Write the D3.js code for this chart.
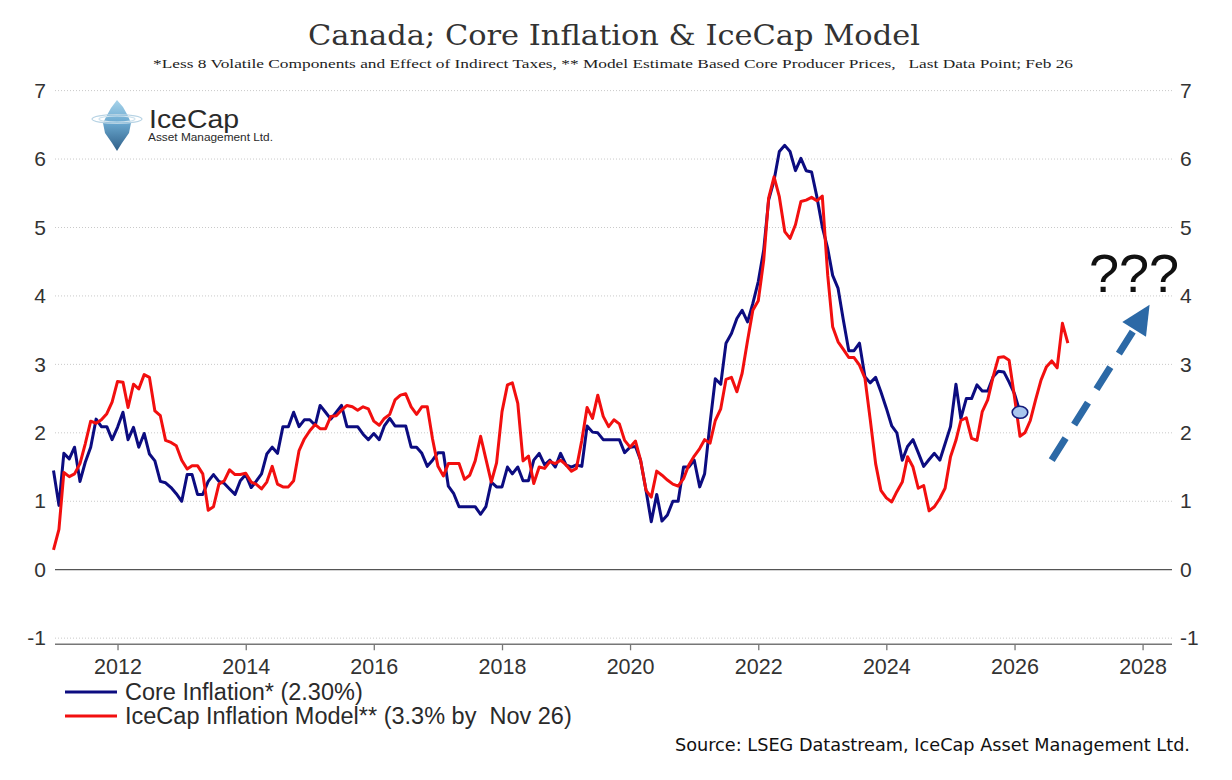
<!DOCTYPE html>
<html>
<head>
<meta charset="utf-8">
<script src="https://cdn.jsdelivr.net/npm/d3@7"></script>
<style>
  body { margin: 0; background: #fff; }
  svg { display: block; }
  text { white-space: pre; }
</style>
</head>
<body>
<div id="container"></div>
<script>
/* CONSTANTS AND GLOBALS */
const width = 1232,
  height = 780,
  plot = { left: 55, right: 1172, top: 90.6, bottom: 644.3 };

/* DATA */
// monthly, year on year %, first value is Jan 2011
const firstMonth = new Date(2011, 0, 1);

const coreInflation = [
  1.45, 0.94, 1.70, 1.62, 1.79, 1.29, 1.57, 1.79, 2.20, 2.09, 2.09, 1.90, // 2011
  2.08, 2.30, 1.90, 2.08, 1.79, 1.99, 1.69, 1.59, 1.29, 1.27, 1.20, 1.11, // 2012
  1.00, 1.39, 1.39, 1.10, 1.10, 1.29, 1.39, 1.29, 1.26, 1.18, 1.10, 1.30, // 2013
  1.39, 1.20, 1.29, 1.40, 1.69, 1.79, 1.70, 2.09, 2.09, 2.30, 2.09, 2.19, // 2014
  2.19, 2.11, 2.40, 2.30, 2.20, 2.30, 2.40, 2.09, 2.09, 2.09, 1.98, 1.90, // 2015
  1.99, 1.90, 2.10, 2.21, 2.10, 2.10, 2.10, 1.79, 1.79, 1.70, 1.51, 1.60, // 2016
  1.71, 1.71, 1.22, 1.11, 0.92, 0.92, 0.92, 0.92, 0.81, 0.92, 1.28, 1.21, // 2017
  1.21, 1.50, 1.40, 1.50, 1.30, 1.30, 1.60, 1.70, 1.53, 1.60, 1.50, 1.70, // 2018
  1.53, 1.50, 1.53, 1.51, 2.10, 2.01, 2.00, 1.90, 1.90, 1.90, 1.90, 1.71, // 2019
  1.79, 1.80, 1.60, 1.16, 0.70, 1.10, 0.71, 0.80, 1.00, 1.00, 1.50, 1.50, // 2020
  1.60, 1.21, 1.40, 2.14, 2.79, 2.71, 3.31, 3.45, 3.67, 3.79, 3.62, 3.89, // 2021
  4.21, 4.67, 5.40, 5.69, 6.11, 6.20, 6.11, 5.83, 6.01, 5.83, 5.81, 5.45, // 2022
  5.01, 4.69, 4.30, 4.11, 3.65, 3.20, 3.20, 3.31, 2.82, 2.73, 2.81, 2.60, // 2023
  2.36, 2.10, 2.00, 1.60, 1.80, 1.90, 1.71, 1.51, 1.61, 1.70, 1.60, 1.84, // 2024
  2.09, 2.71, 2.21, 2.50, 2.50, 2.70, 2.61, 2.61, 2.82, 2.90, 2.89, 2.74, // 2025
  2.57, 2.30                                                              // 2026
];

const iceCapModel = [
  0.29, 0.59, 1.42, 1.36, 1.40, 1.55, 1.84, 2.17, 2.14, 2.19, 2.28, 2.45, // 2011
  2.75, 2.74, 2.37, 2.71, 2.64, 2.85, 2.81, 2.32, 2.25, 1.89, 1.86, 1.81, // 2012
  1.60, 1.47, 1.52, 1.52, 1.40, 0.87, 0.92, 1.25, 1.30, 1.46, 1.39, 1.39, // 2013
  1.41, 1.28, 1.25, 1.18, 1.28, 1.51, 1.25, 1.21, 1.21, 1.30, 1.74, 1.91, // 2014
  2.03, 2.12, 2.06, 2.06, 2.24, 2.25, 2.33, 2.40, 2.38, 2.33, 2.38, 2.35, // 2015
  2.17, 2.11, 2.21, 2.27, 2.48, 2.55, 2.57, 2.38, 2.27, 2.38, 2.38, 1.91, // 2016
  1.51, 1.37, 1.55, 1.55, 1.55, 1.32, 1.38, 1.59, 1.95, 1.62, 1.28, 1.56, // 2017
  2.31, 2.70, 2.73, 2.43, 1.59, 1.66, 1.26, 1.50, 1.48, 1.58, 1.55, 1.60, // 2018
  1.53, 1.44, 1.48, 1.89, 2.37, 2.21, 2.55, 2.24, 2.09, 2.19, 2.13, 1.89, // 2019
  1.79, 1.88, 1.60, 1.16, 1.06, 1.44, 1.38, 1.31, 1.25, 1.22, 1.33, 1.53, // 2020
  1.66, 1.77, 1.90, 1.85, 2.18, 2.35, 2.78, 2.81, 2.60, 2.87, 3.35, 3.79, // 2021
  3.93, 4.52, 5.43, 5.74, 5.45, 4.94, 4.84, 5.04, 5.38, 5.40, 5.44, 5.39, // 2022
  5.46, 4.30, 3.55, 3.33, 3.22, 3.10, 3.10, 2.99, 2.80, 2.20, 1.55, 1.16, // 2023
  1.05, 0.99, 1.14, 1.28, 1.65, 1.50, 1.19, 1.23, 0.86, 0.92, 1.04, 1.19, // 2024
  1.65, 1.89, 2.18, 2.22, 1.92, 1.89, 2.31, 2.48, 2.82, 3.10, 3.11, 3.06, // 2025
  2.52, 1.95, 2.00, 2.18, 2.48, 2.77, 2.96, 3.05, 2.95, 3.60, 3.31        // 2026
];

const yTicks = [-1, 0, 1, 2, 3, 4, 5, 6, 7];
const xTickYears = [2012, 2014, 2016, 2018, 2020, 2022, 2024, 2026, 2028];

const seriesNames = ["Core Inflation* (2.30%)", "IceCap Inflation Model** (3.3% by  Nov 26)"];
const seriesColors = ["#0c0c80", "#f20f0f"];

const titleText = "Canada; Core Inflation & IceCap Model";
const subtitleText = "*Less 8 Volatile Components and Effect of Indirect Taxes, ** Model Estimate Based Core Producer Prices,   Last Data Point; Feb 26";
const sourceText = "Source: LSEG Datastream, IceCap Asset Management Ltd.";

// annotation arrow, in data space
const arrowFrom = { date: new Date(2026, 7, 1), value: 1.60 };
const arrowTo = { date: new Date(2028, 1, 10), value: 3.87 };
const questionAt = { date: new Date(2027, 2, 1), value: 4.06 };

/* HELPERS */
const toPoints = values => values.map((v, i) => ({ date: d3.timeMonth.offset(firstMonth, i), value: v }));
const coreData = toPoints(coreInflation);
const modelData = toPoints(iceCapModel);

/* SCALES */
const xScale = d3.scaleTime()
  .domain([new Date(2011, 0, 1), new Date(2028, 5, 15)])
  .range([53.5, 1171.7]);

const yScale = d3.scaleLinear()
  .domain([-1.09, 7])
  .range([plot.bottom, plot.top]);

/* SVG */
const svg = d3.select("#container")
  .append("svg")
  .attr("width", width)
  .attr("height", height)
  .style("font-family", "'Liberation Sans', Arial, sans-serif");

// + TITLES
svg.append("text")
  .attr("x", 614).attr("y", 45)
  .attr("text-anchor", "middle")
  .attr("font-family", "'DejaVu Serif', serif")
  .attr("font-size", 28)
  .attr("textLength", 612)
  .attr("lengthAdjust", "spacingAndGlyphs")
  .attr("fill", "#333")
  .text(titleText);

svg.append("text")
  .attr("x", 613).attr("y", 68)
  .attr("text-anchor", "middle")
  .attr("font-family", "'Liberation Serif', serif")
  .attr("font-size", 13)
  .attr("textLength", 920)
  .attr("lengthAdjust", "spacingAndGlyphs")
  .attr("fill", "#222")
  .text(subtitleText);

// + GRIDLINES
svg.append("g")
  .selectAll("line")
  .data(yTicks.filter(d => d !== 0))
  .join("line")
  .attr("x1", plot.left).attr("x2", plot.right)
  .attr("y1", d => yScale(d)).attr("y2", d => yScale(d))
  .attr("stroke", "#c9c9c9")
  .attr("stroke-width", 1)
  .attr("stroke-dasharray", "1,2");

svg.append("line")
  .attr("x1", plot.left).attr("x2", plot.right)
  .attr("y1", yScale(0)).attr("y2", yScale(0))
  .attr("stroke", "#555")
  .attr("stroke-width", 1.3);

// + AXES
const xAxis = d3.axisBottom(xScale)
  .tickValues(xTickYears.map(y => new Date(y, 0, 1)))
  .tickFormat(d3.timeFormat("%Y"))
  .tickSize(6)
  .tickPadding(8);

const gx = svg.append("g")
  .attr("transform", `translate(0,${plot.bottom})`)
  .call(xAxis);
gx.select(".domain").remove();
gx.selectAll(".tick line").attr("stroke", "#777").attr("stroke-width", 1.3);
gx.selectAll(".tick text")
  .attr("font-size", 21.5)
  .attr("font-family", "'Liberation Sans', Arial, sans-serif")
  .attr("fill", "#333");
gx.append("line")
  .attr("x1", plot.left).attr("x2", plot.right)
  .attr("stroke", "#777")
  .attr("stroke-width", 1.5);

// plain hyphen for negatives, like the original
const yAxisLeft = d3.axisLeft(yScale).tickValues(yTicks).tickFormat(d => String(d)).tickSize(0).tickPadding(0);
const yAxisRight = d3.axisRight(yScale).tickValues(yTicks).tickFormat(d => String(d)).tickSize(0).tickPadding(0);

[[yAxisLeft, 46], [yAxisRight, 1180]].forEach(([axis, xPos]) => {
  const g = svg.append("g")
    .attr("transform", `translate(${xPos},0)`)
    .call(axis);
  g.select(".domain").remove();
  g.selectAll(".tick text")
    .attr("font-size", 21)
    .attr("font-family", "'Liberation Sans', Arial, sans-serif")
    .attr("fill", "#333");
});

// + LINES
const line = d3.line()
  .x(d => xScale(d.date))
  .y(d => yScale(d.value));

svg.append("path")
  .datum(coreData)
  .attr("fill", "none")
  .attr("stroke", seriesColors[0])
  .attr("stroke-width", 3)
  .attr("stroke-linejoin", "round")
  .attr("d", line);

svg.append("path")
  .datum(modelData)
  .attr("fill", "none")
  .attr("stroke", seriesColors[1])
  .attr("stroke-width", 3)
  .attr("stroke-linejoin", "round")
  .attr("d", line);

// last data point marker
const lastCore = coreData[coreData.length - 1];
svg.append("ellipse")
  .attr("cx", xScale(lastCore.date))
  .attr("cy", yScale(lastCore.value))
  .attr("rx", 7.8).attr("ry", 6)
  .attr("fill", "#a9c6ee")
  .attr("stroke", "#141a7a")
  .attr("stroke-width", 1.6);

// + ANNOTATION ARROW
const ax0 = xScale(arrowFrom.date), ay0 = yScale(arrowFrom.value);
const ax1 = xScale(arrowTo.date), ay1 = yScale(arrowTo.value);
const len = Math.hypot(ax1 - ax0, ay1 - ay0);
const ux = (ax1 - ax0) / len, uy = (ay1 - ay0) / len;
const headLen = 29, headHalf = 14;
const bx = ax1 - ux * headLen, by = ay1 - uy * headLen;
const arrowColor = "#2c69a6";

svg.append("line")
  .attr("x1", ax0).attr("y1", ay0)
  .attr("x2", bx + ux * 2).attr("y2", by + uy * 2)
  .attr("stroke", arrowColor)
  .attr("stroke-width", 7)
  .attr("stroke-dasharray", "26,16");

svg.append("polygon")
  .attr("points", [
    [ax1, ay1],
    [bx - uy * headHalf, by + ux * headHalf],
    [bx + uy * headHalf, by - ux * headHalf]
  ].map(p => p.join(",")).join(" "))
  .attr("fill", arrowColor);

svg.append("text")
  .attr("x", xScale(questionAt.date))
  .attr("y", yScale(questionAt.value))
  .attr("font-size", 54)
  .attr("fill", "#111")
  .text("???");

// + LEGEND
const legend = svg.append("g").attr("transform", "translate(65,692)");
seriesNames.forEach((name, i) => {
  const row = legend.append("g").attr("transform", `translate(0,${i * 24})`);
  row.append("line")
    .attr("x1", 0).attr("x2", 52)
    .attr("stroke", seriesColors[i])
    .attr("stroke-width", 3);
  row.append("text")
    .attr("x", 60).attr("y", 8)
    .attr("font-size", 23.5)
    .attr("fill", "#2a2a2a")
    .text(name);
});

// + SOURCE
svg.append("text")
  .attr("x", 1190).attr("y", 751)
  .attr("text-anchor", "end")
  .attr("font-family", "'DejaVu Sans Condensed', 'Liberation Sans Narrow', sans-serif")
  .attr("font-size", 17)
  .attr("textLength", 515)
  .attr("lengthAdjust", "spacingAndGlyphs")
  .attr("fill", "#111")
  .text(sourceText);

// + LOGO
const defs = svg.append("defs");
const berg = defs.append("linearGradient")
  .attr("id", "berg").attr("x1", 0).attr("y1", 0).attr("x2", 0).attr("y2", 1);
berg.append("stop").attr("offset", "0%").attr("stop-color", "#a7d3ea");
berg.append("stop").attr("offset", "45%").attr("stop-color", "#6aa8cf");
berg.append("stop").attr("offset", "100%").attr("stop-color", "#2f5f88");

const logo = svg.append("g");
logo.append("polygon")
  .attr("points", "117,100 111,108 106,117 103,123 105,133 112,143 117,151 122,143 129,133 131,123 128,116 123,107")
  .attr("fill", "url(#berg)");
logo.append("ellipse")
  .attr("cx", 117).attr("cy", 119).attr("rx", 25).attr("ry", 4.5)
  .attr("fill", "none").attr("stroke", "#b7d3e4").attr("stroke-width", 1.2);
logo.append("ellipse")
  .attr("cx", 117).attr("cy", 119).attr("rx", 18).attr("ry", 3)
  .attr("fill", "none").attr("stroke", "#cfe3ee").attr("stroke-width", 1.2);
logo.append("text")
  .attr("x", 149).attr("y", 128)
  .attr("font-size", 25)
  .attr("textLength", 90)
  .attr("lengthAdjust", "spacingAndGlyphs")
  .attr("fill", "#2a2a2a")
  .text("IceCap");
logo.append("text")
  .attr("x", 148).attr("y", 141)
  .attr("font-size", 11.5)
  .attr("textLength", 125)
  .attr("lengthAdjust", "spacingAndGlyphs")
  .attr("fill", "#2a2a2a")
  .text("Asset Management Ltd.");
</script>
</body>
</html>
